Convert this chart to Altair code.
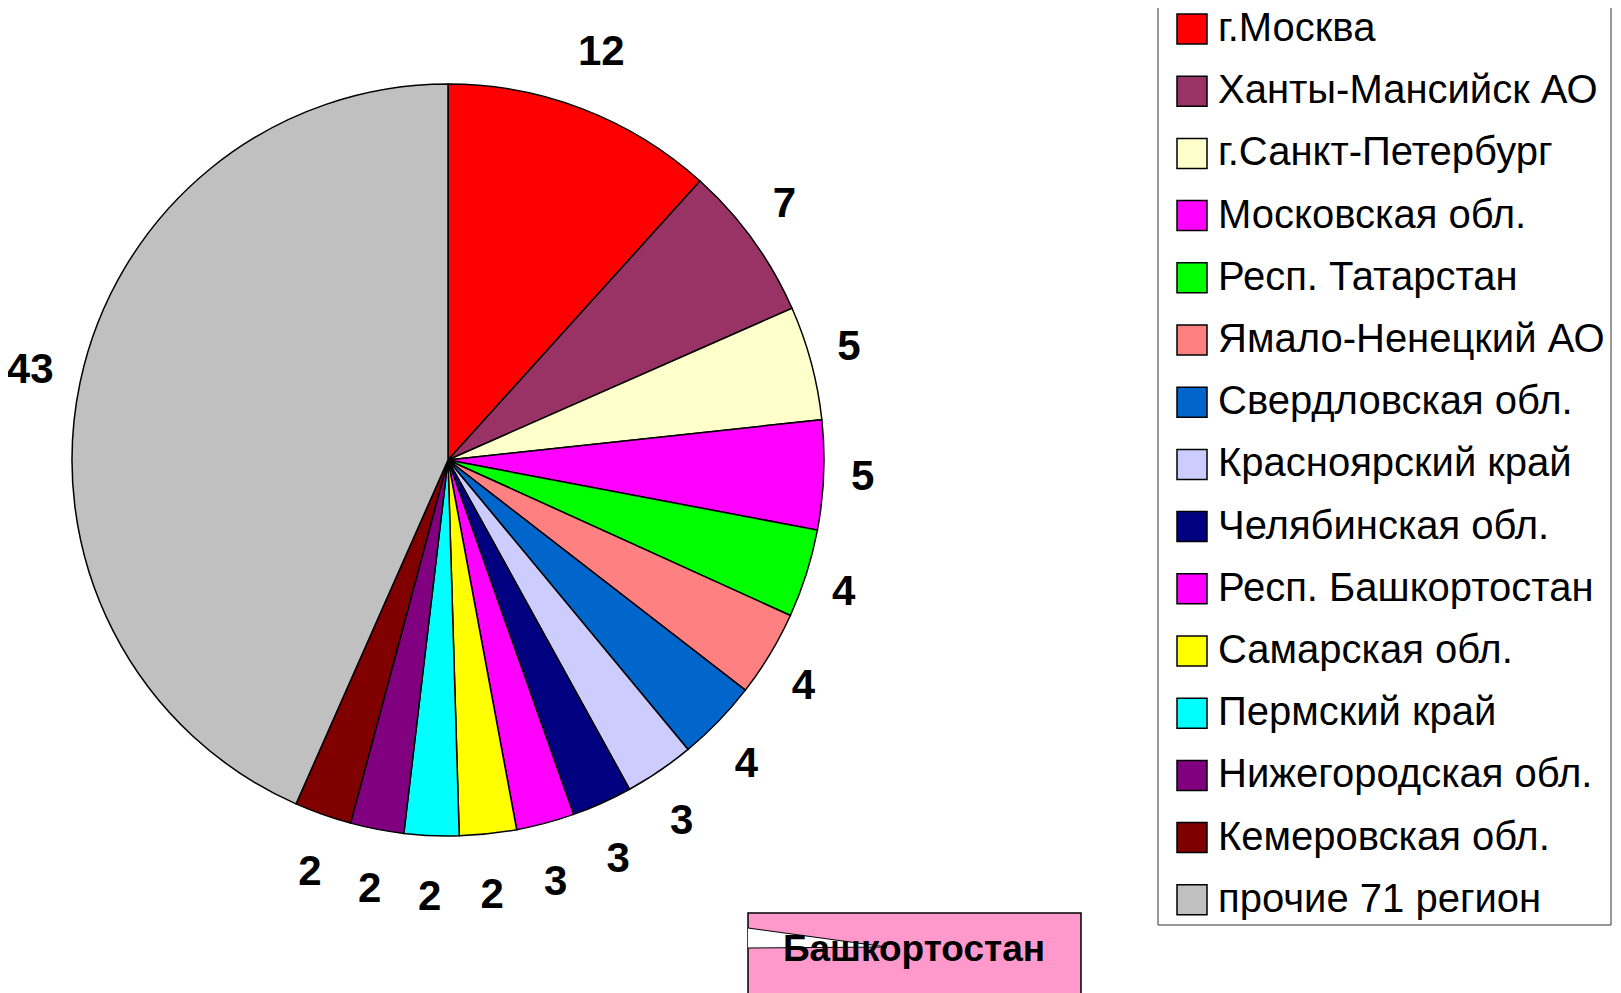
import altair as alt
import pandas as pd

regions = [
    "г.Москва", "Ханты-Мансийск АО", "г.Санкт-Петербург", "Московская обл.",
    "Респ. Татарстан", "Ямало-Ненецкий АО", "Свердловская обл.", "Красноярский край",
    "Челябинская обл.", "Респ. Башкортостан", "Самарская обл.", "Пермский край",
    "Нижегородская обл.", "Кемеровская обл.", "прочие 71 регион",
]
# slice shares (%)
shares = [11.7, 6.7, 4.9, 4.7, 3.8, 3.7, 3.5, 3.0, 2.6, 2.5, 2.45, 2.35, 2.3, 2.45, 43.4]
# numbers printed next to the slices
labels_txt = ["12", "7", "5", "5", "4", "4", "4", "3", "3", "3", "2", "2", "2", "2", "43"]
colors = [
    "#FF0000", "#993366", "#FFFFCC", "#FF00FF", "#00FF00", "#FF8080", "#0066CC",
    "#CCCCFF", "#000080", "#FF00FF", "#FFFF00", "#00FFFF", "#800080", "#800000",
    "#C0C0C0",
]
callout_text = ["Башкортостан"]

df = pd.DataFrame({
    "region": regions, "share": shares, "label": labels_txt,
    "order": list(range(len(regions))),
})

CX, CY, R = 440, 452, 376
FONT = "Liberation Sans"

theta = alt.Theta("share:Q", stack=True)
order = alt.Order("order:Q", sort="ascending")

pie = alt.Chart(df).mark_arc(
    radius=R, stroke="black", strokeWidth=1.5, x=CX, y=CY
).encode(
    theta=theta,
    order=order,
    color=alt.Color(
        "region:N",
        scale=alt.Scale(domain=regions, range=colors),
        sort=regions,
        legend=alt.Legend(
            orient="none", legendX=1150, legendY=-13, title=None,
            symbolType="square", symbolSize=900, symbolStrokeColor="black",
            symbolStrokeWidth=1.5, symbolOpacity=1,
            labelFont=FONT, labelFontSize=40, labelColor="black",
            labelOffset=6, labelLimit=1000, rowPadding=22.2, padding=14,
        ),
    ),
)

# label placement: outside the pie, a little farther vertically than horizontally
labels = alt.Chart(df).transform_joinaggregate(
    total="sum(share)"
).transform_window(
    cum="sum(share)", sort=[alt.SortField("order")], frame=[None, 0]
).transform_calculate(
    a="2*PI*(datum.cum - datum.share/2)/datum.total",
    px=f"{CX} + (403 + 12*length(datum.label))*sin(datum.a)",
    py=f"{CY} - 437*cos(datum.a)",
).mark_text(
    font=FONT, fontSize=42, fontWeight="bold",
    color="black", align="center", baseline="middle",
).encode(
    x=alt.X("px:Q", scale=None, axis=None),
    y=alt.Y("py:Q", scale=None, axis=None),
    text="label:N",
)

legend_frame = alt.Chart(pd.DataFrame({"k": [0]})).mark_rect(
    fillOpacity=0, stroke="#333333", strokeWidth=1
).encode(
    x=alt.value(1150), x2=alt.value(1603), y=alt.value(-5), y2=alt.value(917)
)

box_df = pd.DataFrame({"label": callout_text})
WEDGE = "M-1,-0.144 L1,0.13 L-1,0.144"
box = alt.Chart(box_df).mark_rect(
    fill="#FF99CC", stroke="black", strokeWidth=1.5
).encode(
    x=alt.value(740), x2=alt.value(1073), y=alt.value(905), y2=alt.value(1000)
)
wedge_fill = alt.Chart(box_df).mark_point(
    shape=WEDGE, size=19321, filled=True, fill="white", strokeWidth=0, opacity=1,
).encode(x=alt.value(809.5), y=alt.value(930))
box_text = alt.Chart(box_df).mark_text(
    font=FONT, fontSize=37, fontWeight="bold", color="black",
    align="center", baseline="alphabetic",
).encode(x=alt.value(906), y=alt.value(953), text="label:N")
wedge_line = alt.Chart(box_df).mark_point(
    shape=WEDGE, size=19321, filled=False, stroke="black", strokeWidth=1, opacity=1,
).encode(x=alt.value(809.5), y=alt.value(930))

chart = alt.layer(
    pie, labels, legend_frame, box, wedge_fill, box_text, wedge_line
).properties(
    width=1605, height=985, padding=0,
    autosize=alt.AutoSizeParams(type="none"),
).configure_view(stroke=None)

chart.save("out.html", embed_options={"renderer": "svg", "actions": False})
